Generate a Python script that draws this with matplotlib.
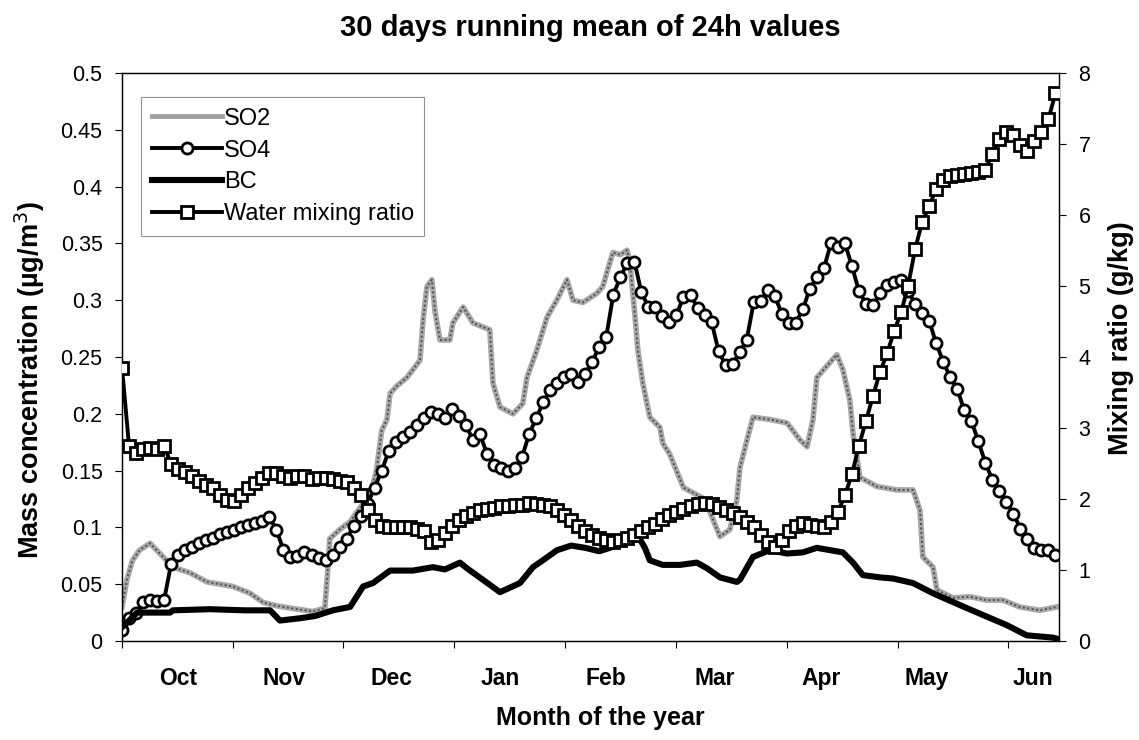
import numpy as np
import matplotlib
matplotlib.use("Agg")
import matplotlib.pyplot as plt
from matplotlib.lines import Line2D

plt.rcParams['font.family'] = ['Liberation Sans', 'DejaVu Sans']

# ---------------- data (x = day since start of record) ----------------
month_labels = ['Oct', 'Nov', 'Dec', 'Jan', 'Feb', 'Mar', 'Apr', 'May', 'Jun']
month_label_day = [16.0, 46.2, 76.9, 107.7, 137.9, 168.9, 199.1, 229.3, 259.5]
month_tick_day = [0, 31.6, 63.1, 94.7, 126.3, 157.9, 189.4, 221.0, 252.6]

so4_day = np.arange(0, 267, 2)
so4_val = [0.010, 0.020, 0.025, 0.034, 0.036, 0.035, 0.036, 0.068, 0.076, 0.080,
           0.083, 0.086, 0.089, 0.091, 0.094, 0.096, 0.098, 0.100, 0.102, 0.104,
           0.106, 0.109, 0.098, 0.080, 0.074, 0.075, 0.078, 0.076, 0.073, 0.071,
           0.076, 0.083, 0.090, 0.101, 0.110, 0.121, 0.135, 0.150, 0.167, 0.175,
           0.180, 0.184, 0.190, 0.196, 0.202, 0.200, 0.196, 0.204, 0.198, 0.190,
           0.177, 0.182, 0.165, 0.155, 0.152, 0.150, 0.152, 0.162, 0.182, 0.196,
           0.210, 0.221, 0.227, 0.232, 0.235, 0.228, 0.235, 0.246, 0.259, 0.268,
           0.305, 0.320, 0.333, 0.334, 0.307, 0.294, 0.294, 0.286, 0.281, 0.287,
           0.303, 0.305, 0.293, 0.287, 0.281, 0.255, 0.243, 0.244, 0.254, 0.265,
           0.298, 0.299, 0.309, 0.304, 0.288, 0.280, 0.280, 0.292, 0.310, 0.320,
           0.328, 0.350, 0.347, 0.350, 0.330, 0.308, 0.297, 0.296, 0.306, 0.313,
           0.316, 0.318, 0.308, 0.297, 0.289, 0.282, 0.262, 0.246, 0.232, 0.222,
           0.203, 0.194, 0.176, 0.157, 0.142, 0.132, 0.122, 0.112, 0.099, 0.090,
           0.082, 0.080, 0.080, 0.076]

water_day = np.arange(0, 267, 2)
water_val = [3.85, 2.75, 2.65, 2.70, 2.72, 2.70, 2.74, 2.50, 2.42, 2.38,
             2.32, 2.26, 2.20, 2.15, 2.05, 1.98, 1.97, 2.05, 2.15, 2.22,
             2.30, 2.36, 2.37, 2.33, 2.30, 2.33, 2.32, 2.28, 2.30, 2.29,
             2.28, 2.26, 2.24, 2.15, 2.05, 1.85, 1.70, 1.62, 1.60, 1.60,
             1.61, 1.60, 1.58, 1.55, 1.40, 1.42, 1.52, 1.62, 1.70, 1.76,
             1.80, 1.84, 1.86, 1.88, 1.90, 1.90, 1.92, 1.92, 1.94, 1.93,
             1.92, 1.90, 1.85, 1.78, 1.70, 1.62, 1.55, 1.50, 1.45, 1.42,
             1.40, 1.42, 1.45, 1.50, 1.55, 1.60, 1.65, 1.72, 1.78, 1.82,
             1.86, 1.90, 1.93, 1.95, 1.93, 1.89, 1.85, 1.80, 1.75, 1.68,
             1.60, 1.50, 1.40, 1.33, 1.42, 1.55, 1.62, 1.66, 1.64, 1.62,
             1.61, 1.68, 1.82, 2.05, 2.35, 2.75, 3.10, 3.45, 3.79, 4.05,
             4.36, 4.63, 5.00, 5.52, 5.90, 6.12, 6.37, 6.50, 6.55, 6.57,
             6.58, 6.59, 6.61, 6.64, 6.86, 7.07, 7.17, 7.12, 6.98, 6.90,
             7.04, 7.17, 7.35, 7.72]

so2_day = [0, 1.4, 3, 5, 8, 10.8, 14.5, 19.4, 24.2, 28, 31.6, 36.5, 40.2, 44, 47.9,
           54.4, 57.8, 58.7, 59.2, 62, 65, 68, 70.7, 72.5, 74, 75.5, 76.4, 78.5,
           81.2, 84.9, 85.8, 86.9, 88.3, 89.2, 90.6, 93.4, 94.3, 97.2, 100, 104.8,
           105.7, 107.7, 111.4, 114.2, 115.4, 118.2, 121.1, 123.9, 126.8, 128.5,
           131.3, 135.3, 137, 139, 139.9, 142, 143.9, 144.7, 146.2, 147, 148.4,
           150.4, 153.3, 154.1, 156, 158, 160, 163, 166, 168, 170.4, 173.2, 175.2,
           176.1, 178.1, 179.8, 184.6, 189.5, 193.2, 195.2, 196.9, 198, 201.7,
           203.7, 205.4, 207.4, 208.3, 210.3, 215.1, 220.8, 225.4, 227.4, 228.2,
           231.1, 232.2, 236.8, 241.6, 246.4, 251, 255.8, 261.5, 266.4]
so2_val = [0.030, 0.054, 0.071, 0.080, 0.086, 0.077, 0.065, 0.060, 0.052, 0.050,
           0.048, 0.042, 0.034, 0.031, 0.029, 0.026, 0.029, 0.065, 0.090, 0.098,
           0.105, 0.118, 0.128, 0.150, 0.185, 0.195, 0.218, 0.225, 0.232, 0.247,
           0.283, 0.312, 0.318, 0.290, 0.265, 0.265, 0.280, 0.294, 0.280, 0.274,
           0.227, 0.206, 0.200, 0.209, 0.232, 0.256, 0.285, 0.300, 0.318, 0.300,
           0.298, 0.306, 0.312, 0.333, 0.342, 0.340, 0.344, 0.335, 0.285, 0.256,
           0.227, 0.197, 0.188, 0.174, 0.165, 0.150, 0.135, 0.130, 0.125, 0.110,
           0.092, 0.098, 0.124, 0.153, 0.177, 0.197, 0.195, 0.192, 0.177, 0.171,
           0.195, 0.232, 0.245, 0.252, 0.239, 0.212, 0.183, 0.144, 0.136, 0.133,
           0.133, 0.115, 0.074, 0.065, 0.045, 0.038, 0.039, 0.036, 0.036, 0.030,
           0.027, 0.030]

bc_day = [0, 2, 4.3, 13.7, 14.5, 25, 35, 42.2, 45, 50.7, 55, 60.1, 65, 68.7, 71.5,
          76.4, 82.9, 88.6, 92, 96.3, 98.3, 102.8, 107.7, 113.4, 117.1, 119.9, 124,
          128, 132, 136, 140, 144, 147.5, 149, 150.4, 154.1, 159, 163.8, 166.7,
          170.4, 175.2, 176.1, 179.8, 184.6, 189.5, 194, 198, 205.4, 208.3, 211.1,
          216, 219.7, 225.4, 231.1, 240.7, 252.1, 257.8, 265.2, 266.5]
bc_val = [0.012, 0.018, 0.025, 0.025, 0.027, 0.028, 0.027, 0.027, 0.018, 0.020,
          0.022, 0.027, 0.030, 0.048, 0.051, 0.062, 0.062, 0.065, 0.063, 0.069,
          0.064, 0.054, 0.043, 0.051, 0.065, 0.071, 0.080, 0.084, 0.082, 0.079,
          0.083, 0.087, 0.090, 0.082, 0.071, 0.067, 0.067, 0.069, 0.064, 0.056,
          0.052, 0.054, 0.074, 0.080, 0.077, 0.078, 0.082, 0.078, 0.069, 0.058,
          0.056, 0.055, 0.051, 0.042, 0.029, 0.014, 0.005, 0.003, 0.002]

left_ticks = [0, 0.05, 0.1, 0.15, 0.2, 0.25, 0.3, 0.35, 0.4, 0.45, 0.5]
left_tick_labels = ['0', '0.05', '0.1', '0.15', '0.2', '0.25', '0.3', '0.35', '0.4', '0.45', '0.5']
right_ticks = [0, 1, 2, 3, 4, 5, 6, 7, 8]

# ---------------- figure ----------------
W, H = 1139, 740
fig = plt.figure(figsize=(W / 100, H / 100), dpi=100)
ax = fig.add_axes([122 / W, 1 - 641 / H, (1059 - 122) / W, (641 - 73) / H])
ax2 = ax.twinx()

ax.plot(so2_day, so2_val, color='#a8a8a8', lw=4.0, solid_joinstyle='round', zorder=2)
ax.plot(so2_day, so2_val, color='#505050', lw=1.4, ls=(0, (1, 1.3)), zorder=2)
ax.plot(so4_day, so4_val, color='black', lw=2.8, marker='o', ms=8, mfc='white',
        mec='black', mew=2.0, zorder=3)
ax.plot(bc_day, bc_val, color='black', lw=4.4, solid_joinstyle='round',
        solid_capstyle='round', zorder=4)
ax2.plot(water_day, water_val, color='black', lw=2.8, marker='s', ms=8, mfc='white',
         mec='black', mew=2.0, zorder=3)

ax.set_xlim(0, 267)
ax.set_ylim(0, 0.5)
ax2.set_ylim(0, 8)

ax.set_yticks(left_ticks)
ax.set_yticklabels(left_tick_labels)
ax2.set_yticks(right_ticks)

ax.set_xticks(month_tick_day)
ax.set_xticklabels([])
ax.set_xticks(month_label_day, minor=True)
ax.set_xticklabels(month_labels, minor=True, fontweight='bold', fontsize=16.5)
ax.tick_params(axis='x', which='minor', length=0, pad=19)
ax.tick_params(axis='x', which='major', length=5, direction='out', width=0.8)
ax.tick_params(axis='y', labelsize=15.5, length=5, direction='out', width=0.8, pad=9)
ax2.tick_params(axis='y', labelsize=15.5, length=5, direction='out', width=0.8, pad=9)

for a in (ax, ax2):
    for s in a.spines.values():
        s.set_linewidth(0.9)

fig.text(590 / W, 1 - 28 / H, '30 days running mean of 24h values', ha='center',
         va='center', fontsize=21, fontweight='bold')
fig.text(600 / W, 1 - 718 / H, 'Month of the year', ha='center', va='center',
         fontsize=18, fontweight='bold')
fig.text(30 / W, 1 - 380 / H, 'Mass concentration (µg/m$^{3}$)', ha='center',
         va='center', rotation=90, fontsize=19.5, fontweight='bold')
fig.text(1121 / W, 1 - 338 / H, 'Mixing ratio (g/kg)', ha='center', va='center',
         rotation=90, fontsize=19.5, fontweight='bold')

handles = [
    Line2D([], [], color='#a0a0a0', lw=3.5),
    Line2D([], [], color='black', lw=2.8, marker='o', ms=8, mfc='white', mec='black', mew=2.0),
    Line2D([], [], color='black', lw=4.4),
    Line2D([], [], color='black', lw=2.8, marker='s', ms=8, mfc='white', mec='black', mew=2.0),
]
labels = ['SO2', 'SO4', 'BC', 'Water mixing ratio']
leg = fig.legend(handles, labels, loc='upper left',
                 bbox_to_anchor=(141 / W, 1 - 97 / H), fontsize=17,
                 frameon=True, fancybox=False, edgecolor='#777777',
                 handlelength=3.0, handletextpad=0.05, labelspacing=0.42,
                 borderpad=0.45, borderaxespad=0)
leg.get_frame().set_linewidth(0.8)

fig.savefig('out.png', dpi=100)
